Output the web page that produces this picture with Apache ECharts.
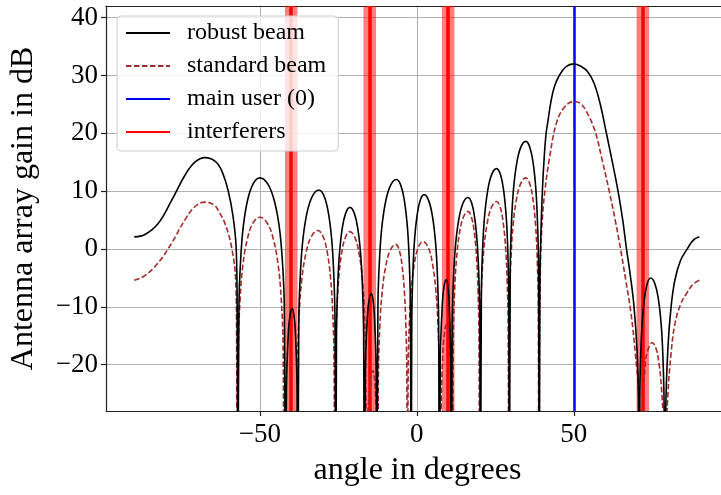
<!DOCTYPE html>
<html>
<head>
<meta charset="utf-8">
<script src="https://cdn.jsdelivr.net/npm/echarts@6/dist/echarts.min.js"></script>
<style>
html, body { margin: 0; padding: 0; background: #fff; }
#main { width: 721px; height: 495px; }
</style>
</head>
<body>
<div id="main"></div>
<script>
// angle (degrees) / gain (dB), -60 = deep null below the axis
var robustAngle = [
  -90.0, -86.6, -82.4, -78.1, -73.9, -70.7, -67.5, -64.3, -62.2, -60.1, -58.5, -57.5, -57.2, -57.0,
  -56.65, -56.09, -55.25, -53.85, -52.1, -50.0, -47.54, -45.49, -43.85, -42.87, -42.21, -41.8,
  -41.53, -40.86, -40.33, -39.7, -39.16, -38.71, -38.13, -37.9,
  -37.57, -37.03, -36.23, -34.89, -33.21, -31.2, -29.58, -28.23, -27.15, -26.5, -26.07, -25.8,
  -25.58, -25.22, -24.68, -23.78, -22.65, -21.3, -19.92, -18.77, -17.85, -17.3, -16.93, -16.7,
  -16.41, -15.71, -15.16, -14.5, -13.96, -13.51, -12.93, -12.7,
  -12.39, -11.89, -11.15, -9.91, -8.36, -6.5, -5.09, -3.92, -2.98, -2.41, -2.04, -1.8,
  -1.6, -1.27, -0.78, 0.05, 1.07, 2.3, 3.77, 4.99, 5.98, 6.56, 6.96, 7.2,
  7.49, 8.19, 8.74, 9.4, 9.88, 10.28, 10.79, 11.0,
  11.27, 11.69, 12.33, 13.39, 14.71, 16.3, 17.5, 18.5, 19.3, 19.78, 20.1, 20.3,
  20.56, 20.96, 21.58, 22.6, 23.87, 25.4, 26.63, 27.66, 28.48, 28.97, 29.3, 29.5,
  29.76, 30.18, 30.8, 31.84, 33.14, 34.7, 35.99, 37.07, 37.93, 38.44, 38.79, 39.0,
  39.2, 39.5, 40.0, 40.6, 41.2, 41.8, 42.7, 43.8, 45.3, 47.5, 50.0, 52.5, 54.5, 56.5, 58.5, 60.4, 62.3, 64.1, 65.6, 66.8, 68.0, 69.2, 70.2, 70.6, 70.8,
  71.0, 71.28, 71.73, 72.47, 73.39, 74.5, 75.85, 76.98, 77.88, 78.42, 78.78, 79.0,
  79.3, 80.0, 81.0, 82.2, 84.0, 85.9, 88.0, 90.0
];
var robustGain = [
  2.1, 2.5, 4.4, 8.4, 12.7, 15.0, 15.8, 15.2, 13.6, 10.1, 5.5, -0.2, -12, -60,
  -9.8, -1.6, 4.0, 8.55, 11.3, 12.3, 11.3, 8.55, 4.0, -1.6, -9.8, -60,
  -24.2, -14.0, -11.3, -10.3, -11.3, -14.0, -24.2, -60,
  -11.9, -3.7, 1.9, 6.45, 9.2, 10.2, 9.2, 6.45, 1.9, -3.7, -11.9, -60,
  -14.9, -6.7, -1.1, 3.45, 6.2, 7.2, 6.2, 3.45, -1.1, -6.7, -14.9, -60,
  -21.6, -11.4, -8.7, -7.7, -8.7, -11.4, -21.6, -60,
  -10.1, -1.9, 3.7, 8.25, 11.0, 12.0, 11.0, 8.25, 3.7, -1.9, -10.1, -60,
  -12.7, -4.5, 1.1, 5.65, 8.4, 9.4, 8.4, 5.65, 1.1, -4.5, -12.7, -60,
  -19.2, -9.0, -6.3, -5.3, -6.3, -9.0, -19.2, -60,
  -13.2, -5.0, 0.6, 5.15, 7.9, 8.9, 7.9, 5.15, 0.6, -5.0, -13.2, -60,
  -8.2, 0.0, 5.6, 10.15, 12.9, 13.9, 12.9, 10.15, 5.6, 0.0, -8.2, -60,
  -3.5, 4.7, 10.3, 14.85, 17.6, 18.6, 17.6, 14.85, 10.3, 4.7, -3.5, -60,
  -7, 2, 10, 16, 20, 22.2, 25.4, 28, 29.9, 31.5, 32.0, 31.5, 30.6, 28.6, 24.9, 20.0, 15.0, 10.0, 5.0, 0.0, -4.5, -10, -18, -26, -60,
  -27.1, -18.9, -13.3, -8.75, -6.0, -5.0, -6.0, -8.75, -13.3, -18.9, -27.1, -60,
  -28, -17, -10, -5.4, -2.0, -0.2, 1.5, 2.1
];
var standardAngle = [
  -90.0, -86.6, -82.4, -78.1, -73.9, -70.7, -67.5, -64.5, -63.3, -61.1, -59.0, -57.7, -57.4, -57.2,
  -56.84, -56.26, -55.4, -53.96, -52.16, -50.0, -47.66, -45.71, -44.15, -43.21, -42.59, -42.2,
  -40.2, -38.3,
  -37.96, -37.42, -36.6, -35.24, -33.54, -31.5, -29.88, -28.53, -27.45, -26.8, -26.37, -26.1,
  -25.86, -25.48, -24.9, -23.94, -22.74, -21.3, -19.71, -18.39, -17.33, -16.69, -16.27, -16.0,
  -15.7, -15.1, -14.6, -14.0, -13.55, -13.18, -12.8, -12.5,
  -12.21, -11.75, -11.05, -9.89, -8.44, -6.7, -5.59, -4.67, -3.93, -3.48, -3.19, -3.0,
  -2.75, -2.35, -1.75, -0.75, 0.5, 2.0, 3.62, 4.97, 6.05, 6.7, 7.13, 7.4,
  7.7, 8.3, 9.0, 9.5, 10.1, 10.7, 11.1, 11.4,
  11.65, 12.04, 12.63, 13.6, 14.83, 16.3, 17.41, 18.34, 19.08, 19.52, 19.82, 20.0,
  20.27, 20.7, 21.35, 22.43, 23.78, 25.4, 26.57, 27.55, 28.33, 28.79, 29.11, 29.3,
  29.57, 30.0, 30.65, 31.73, 33.08, 34.7, 35.96, 37.01, 37.85, 38.35, 38.69, 38.9,
  39.1, 39.3, 39.5, 40.1, 40.8, 42.2, 44.5, 47.0, 50.0, 52.0, 54.0, 56.7, 59.0, 61.3, 63.2, 64.9, 66.6, 68.2, 69.6, 70.9, 71.4,
  72.0, 72.75, 73.77, 75.0, 76.2, 77.2, 78.0, 78.48, 79.0,
  79.3, 80.0, 81.0, 82.2, 84.0, 85.9, 88.0, 90.0
];
var standardGain = [
  -5.4, -4.6, -2.4, 1.0, 5.0, 7.3, 8.1, 7.6, 6.7, 4.4, 0.3, -5.4, -15, -60,
  -16.6, -8.4, -2.8, 1.75, 4.5, 5.5, 4.5, 1.75, -2.8, -8.4, -16.6, -60,
  -32, -60,
  -18.9, -10.7, -5.1, -0.55, 2.2, 3.2, 2.2, -0.55, -5.1, -10.7, -18.9, -60,
  -19.1, -10.9, -5.3, -0.75, 2.0, 3.0, 2.0, -0.75, -5.3, -10.9, -19.1, -60,
  -30, -24.8, -22, -21, -22, -24.8, -30, -60,
  -21.3, -13.1, -7.5, -2.95, -0.2, 0.8, -0.2, -2.95, -7.5, -13.1, -21.3, -60,
  -20.8, -12.6, -7.0, -2.45, 0.3, 1.3, 0.3, -2.45, -7.0, -12.6, -20.8, -60,
  -30, -18, -13.8, -13, -13.8, -18, -30, -60,
  -15.6, -7.4, -1.8, 2.75, 5.5, 6.5, 5.5, 2.75, -1.8, -7.4, -15.6, -60,
  -13.9, -5.7, -0.1, 4.45, 7.2, 8.2, 7.2, 4.45, -0.1, -5.7, -13.9, -60,
  -9.8, -1.6, 4.0, 8.55, 11.3, 12.3, 11.3, 8.55, 4.0, -1.6, -9.8, -60,
  -15, -6, 0, 6, 10, 15.5, 21.8, 24.5, 25.5, 25.2, 23.8, 20.5, 15.5, 10, 5, 0, -5.5, -11, -18, -27, -60,
  -30, -20, -17.2, -16.2, -17.2, -20, -24.5, -30, -60,
  -34, -25, -18, -13, -9.6, -7.7, -6.1, -5.4
];
var mainUser = 50;
var interferers = [-40, -15, 10, 72];
var interfererSpread = 2;
var xTicks = [-50, 0, 50];
var yTicks = [-20, -10, 0, 10, 20, 30, 40];

var font = '"Liberation Serif", "DejaVu Serif", serif';
var spine = { color: '#222', width: 1.2 };
function pairs(xs, ys) {
    return xs.map(function (x, i) { return [x, ys[i]]; });
}
function minus(v) {
    return String(v).replace('-', '\u2212');
}

var myChart = echarts.init(document.getElementById('main'), null, { renderer: 'canvas' });

var option = {
    animation: false,
    backgroundColor: '#fff',
    textStyle: { fontFamily: font },
    grid: {
        left: 106, top: 6, right: 0, bottom: 84,
        show: false,
        containLabel: false
    },
    legend: {
        orient: 'vertical',
        left: 117, top: 16,
        data: ['robust beam', 'standard beam', 'main user (0)', 'interferers'],
        itemWidth: 44, itemHeight: 14, itemGap: 9,
        padding: [5, 12, 7, 8],
        backgroundColor: 'rgba(255,255,255,0.8)',
        borderColor: '#cccccc', borderWidth: 1, borderRadius: 4,
        itemStyle: { opacity: 0 },
        textStyle: { fontFamily: font, fontSize: 24, color: '#000', padding: [0, 0, 0, 12] },
        z: 10
    },
    xAxis: [{
        // the right part of the original axes (up to 99) lies outside the picture
        type: 'value', min: -99, max: 96.9, splitNumber: 4,
        name: 'angle in degrees', nameLocation: 'middle', nameGap: 44,
        nameTextStyle: { fontFamily: font, fontSize: 32, color: '#000', padding: [0, 0, 0, 8] },
        axisLine: { show: true, onZero: false, lineStyle: spine },
        axisTick: { show: true, length: 5, customValues: xTicks, lineStyle: spine },
        axisLabel: { customValues: xTicks, margin: 10, fontFamily: font, fontSize: 27, color: '#000', formatter: minus },
        splitLine: { show: true, lineStyle: { color: '#b0b0b0', width: 1 } }
    }, {
        // top spine only
        type: 'value', min: -99, max: 96.9, position: 'top',
        axisLine: { show: true, onZero: false, lineStyle: spine },
        axisTick: { show: false }, axisLabel: { show: false }, splitLine: { show: false }
    }],
    yAxis: {
        type: 'value', min: -28, max: 42, splitNumber: 7,
        name: 'Antenna array gain in dB', nameLocation: 'middle', nameGap: 66, nameRotate: 90,
        nameTextStyle: { fontFamily: font, fontSize: 32, color: '#000' },
        axisLine: { show: true, onZero: false, lineStyle: spine },
        axisTick: { show: true, length: 5, customValues: yTicks, lineStyle: spine },
        axisLabel: { customValues: yTicks, margin: 8, fontFamily: font, fontSize: 27, color: '#000', formatter: minus },
        splitLine: { show: true, lineStyle: { color: '#b0b0b0', width: 1 } }
    },
    series: [
        {
            name: 'robust beam', type: 'line', z: 4,
            data: pairs(robustAngle, robustGain),
            symbol: 'none', clip: true, smooth: 0.4,
            lineStyle: { color: '#000', width: 1.6 },
            itemStyle: { color: '#000' }
        },
        {
            name: 'standard beam', type: 'line', z: 3,
            data: pairs(standardAngle, standardGain),
            symbol: 'none', clip: true, smooth: 0.4,
            lineStyle: { color: '#a52a2a', width: 1.6, type: [5.5, 2.5] },
            itemStyle: { color: '#a52a2a' }
        },
        {
            name: 'main user (0)', type: 'line', z: 2, data: [],
            symbol: 'none',
            lineStyle: { color: '#0000ff', width: 2.5 },
            itemStyle: { color: '#0000ff' },
            markLine: {
                silent: true, z: 2, symbol: ['none', 'none'], label: { show: false },
                lineStyle: { color: '#0000ff', width: 2.5, type: 'solid' },
                emphasis: { disabled: true },
                data: [{ xAxis: mainUser }]
            }
        },
        {
            name: 'interferers', type: 'line', z: 2, data: [],
            symbol: 'none',
            lineStyle: { color: '#ff0000', width: 3 },
            itemStyle: { color: '#ff0000' },
            markArea: {
                silent: true, z: 1,
                itemStyle: { color: 'rgba(255,0,0,0.5)' },
                emphasis: { disabled: true },
                data: interferers.map(function (a) {
                    return [{ xAxis: a - interfererSpread }, { xAxis: a + interfererSpread }];
                })
            },
            markLine: {
                silent: true, z: 2, symbol: ['none', 'none'], label: { show: false },
                lineStyle: { color: '#ff0000', width: 3.5, type: 'solid' },
                emphasis: { disabled: true },
                data: interferers.map(function (a) { return { xAxis: a }; })
            }
        }
    ]
};
myChart.setOption(option);
</script>
</body>
</html>
